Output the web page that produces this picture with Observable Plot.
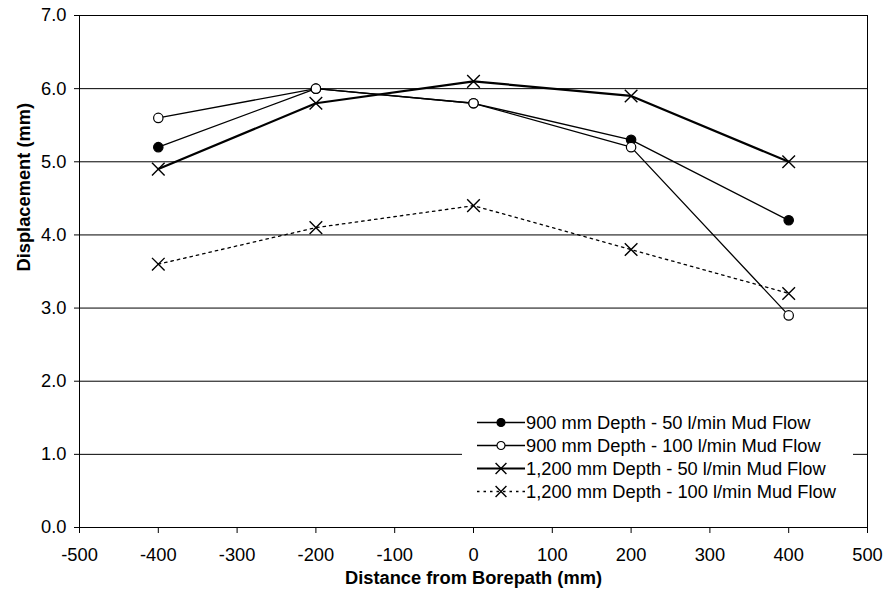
<!DOCTYPE html>
<html>
<head>
<meta charset="utf-8">
<script src="https://cdn.jsdelivr.net/npm/d3@7"></script>
<script src="https://cdn.jsdelivr.net/npm/@observablehq/plot@0.6"></script>
<style>
  html, body { margin: 0; padding: 0; background: #fff; }
  #wrap { position: relative; width: 888px; height: 602px; font-family: "Liberation Sans", Arial, Helvetica, sans-serif; }
  #legend { position: absolute; left: 462px; top: 411px; width: 391px; height: 94px; background: #fff; font-size: 18.3px; color: #000; }
  .row { position: absolute; left: 15px; height: 23px; display: flex; align-items: center; white-space: nowrap; }
  .row svg { display: block; margin-right: 0px; }
</style>
</head>
<body>
<div id="wrap"><div id="legend"></div></div>
<script>
// ---- data ----
const distances = [-400, -200, 0, 200, 400];
const depth900flow50 = [5.2, 6.0, 5.8, 5.3, 4.2];
const depth900flow100 = [5.6, 6.0, 5.8, 5.2, 2.9];
const depth1200flow50 = [4.9, 5.8, 6.1, 5.9, 5.0];
const depth1200flow100 = [3.6, 4.1, 4.4, 3.8, 3.2];
const seriesNames = [
  "900 mm Depth - 50 l/min Mud Flow",
  "900 mm Depth - 100 l/min Mud Flow",
  "1,200 mm Depth - 50 l/min Mud Flow",
  "1,200 mm Depth - 100 l/min Mud Flow"
];
const xTicks = [-500, -400, -300, -200, -100, 0, 100, 200, 300, 400, 500];
const yTicks = [0, 1, 2, 3, 4, 5, 6, 7];
const xTitle = "Distance from Borepath (mm)";
const yTitle = "Displacement (mm)";

const seriesValues = [depth900flow50, depth900flow100, depth1200flow50, depth1200flow100];
const styles = [
  {symbol: "circle", fill: "black", stroke: "black", r: 4.7, width: 1.3, dash: null},
  {symbol: "circle", fill: "white", stroke: "black", r: 4.7, width: 1.3, dash: null},
  {symbol: "times", fill: "none", stroke: "black", r: 5.8, width: 2.2, dash: null},
  {symbol: "times", fill: "none", stroke: "black", r: 5.8, width: 1.3, dash: "2.5,4"}
];
const tables = seriesValues.map((vals, i) => distances.map((x, j) => ({x, y: vals[j], series: seriesNames[i]})));

const FONT = '"Liberation Sans", Arial, Helvetica, sans-serif';
const FS = 18.3;

const lineMarks = tables.map((t, i) => Plot.line(t, {
  x: "x", y: "y", stroke: "black", strokeWidth: styles[i].width,
  strokeDasharray: styles[i].dash || undefined
}));
const dotMarks = tables.map((t, i) => Plot.dot(t, {
  x: "x", y: "y", symbol: () => styles[i].symbol, r: styles[i].r,
  fill: styles[i].fill, stroke: "black", strokeWidth: styles[i].symbol === "times" ? 1.4 : 1.2
}));

const chart = Plot.plot({
  width: 888,
  height: 602,
  marginLeft: 79,
  marginRight: 21,
  marginTop: 15,
  marginBottom: 75,
  style: {fontFamily: FONT, fontSize: FS + "px", color: "black", background: "white", overflow: "visible"},
  x: {domain: [-500, 500]},
  y: {domain: [0, 7]},
  marks: [
    Plot.gridY(yTicks, {stroke: "black", strokeOpacity: 1, strokeWidth: 1}),
    Plot.frame({stroke: "black", strokeWidth: 1}),
    Plot.axisX(xTicks, {tickSize: 6, tickPadding: 14, tickFormat: d => String(d), label: null, fontSize: FS}),
    Plot.axisY(yTicks, {tickSize: 5, tickPadding: 8, tickFormat: d => d.toFixed(1), label: null, fontSize: FS}),
    Plot.text([xTitle], {frameAnchor: "bottom", dy: 56, fontWeight: "bold", fontSize: FS, text: d => d}),
    Plot.text([yTitle], {frameAnchor: "left", dx: -55, rotate: -90, fontWeight: "bold", fontSize: FS, text: d => d}),
    ...lineMarks,
    ...dotMarks
  ]
});
document.getElementById("wrap").insertBefore(chart, document.getElementById("legend"));

// ---- legend ----
const legend = document.getElementById("legend");
const symPath = {
  circle: (r) => d3.symbol(d3.symbolCircle, Math.PI * r * r)(),
  times: (r) => d3.symbol(d3.symbolTimes, Math.PI * r * r)()
};
seriesNames.forEach((name, i) => {
  const s = styles[i];
  const row = document.createElement("div");
  row.className = "row";
  row.style.top = (i * 23) + "px";
  const svg = d3.create("svg").attr("width", 49).attr("height", 23);
  svg.append("line").attr("x1", 0).attr("x2", 48).attr("y1", 11.5).attr("y2", 11.5)
    .attr("stroke", "black").attr("stroke-width", s.width)
    .attr("stroke-dasharray", s.dash ? s.dash : null);
  svg.append("path").attr("transform", "translate(24,11.5)")
    .attr("d", symPath[s.symbol](s.symbol === "times" ? 5 : 4))
    .attr("fill", s.fill).attr("stroke", "black").attr("stroke-width", s.symbol === "times" ? 1.4 : 1.2);
  row.appendChild(svg.node());
  const span = document.createElement("span");
  span.textContent = name;
  row.appendChild(span);
  legend.appendChild(row);
});
</script>
</body>
</html>
